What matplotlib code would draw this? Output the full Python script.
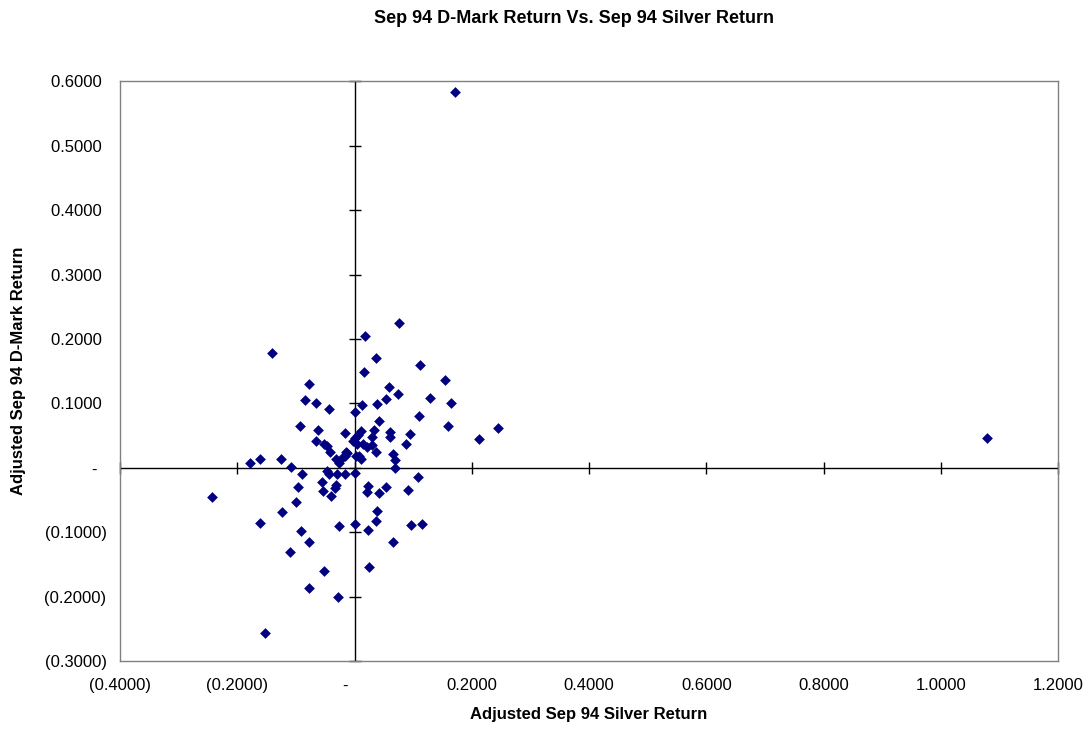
import matplotlib
matplotlib.use("Agg")
import matplotlib.pyplot as plt
from matplotlib.ticker import FuncFormatter

plt.rcParams['font.family'] = ['Liberation Sans', 'DejaVu Sans']

# Adjusted Sep 94 silver returns (x) and D-Mark returns (y)
silver_return = [
    0.171, 1.079, 0.245, 0.212, -0.243, -0.152,
    -0.140, -0.078, -0.084, -0.065, -0.043, 0.000, -0.093, -0.063, -0.017,
    -0.065, -0.052, -0.047, -0.042, -0.032, -0.027, -0.017, -0.012, -0.002,
    0.002, -0.178, -0.161, -0.125, -0.109, -0.090,
    0.076, 0.018, 0.037, 0.112, 0.017, 0.155, 0.058, 0.075, 0.054, 0.128,
    0.165, 0.038, 0.012, 0.110, 0.041, 0.160, 0.011, 0.033, 0.060, 0.061,
    0.094, 0.030, 0.006, 0.001, 0.004, 0.088, 0.029, 0.022, 0.036, 0.066,
    0.069, -0.015, -0.019, 0.008, 0.011, 0.069, -0.017, 0.001, 0.108, 0.023,
    0.022, 0.054, 0.042, 0.092, 0.039, 0.036, 0.000, 0.023, 0.097, 0.115,
    0.065, 0.024, -0.047, -0.043, -0.030, -0.096, -0.056, -0.054, -0.032,
    -0.033, -0.040, -0.099, -0.124, -0.161, -0.027, -0.091, -0.077, -0.110,
    -0.052, -0.078, -0.029, 0.014,
]
dmark_return = [
    0.583, 0.047, 0.062, 0.044, -0.045, -0.257,
    0.179, 0.130, 0.106, 0.100, 0.091, 0.086, 0.065, 0.059, 0.054,
    0.041, 0.037, 0.034, 0.025, 0.013, 0.007, 0.018, 0.023, 0.042,
    0.018, 0.008, 0.014, 0.013, 0.002, -0.010,
    0.225, 0.204, 0.171, 0.160, 0.149, 0.137, 0.126, 0.114, 0.107, 0.108,
    0.100, 0.099, 0.097, 0.080, 0.073, 0.065, 0.057, 0.059, 0.056, 0.048,
    0.053, 0.048, 0.051, 0.046, 0.037, 0.037, 0.036, 0.032, 0.025, 0.021,
    0.012, 0.025, 0.017, 0.018, 0.014, 0.000, -0.010, -0.008, -0.015, -0.028,
    -0.038, -0.029, -0.039, -0.035, -0.067, -0.082, -0.087, -0.097, -0.089, -0.087,
    -0.115, -0.154, -0.005, -0.010, -0.010, -0.030, -0.022, -0.036, -0.026,
    -0.032, -0.044, -0.053, -0.069, -0.085, -0.090, -0.098, -0.115, -0.130,
    -0.160, -0.187, -0.200, 0.037,
]

x_ticks = [-0.4, -0.2, 0.0, 0.2, 0.4, 0.6, 0.8, 1.0, 1.2]
y_ticks = [-0.3, -0.2, -0.1, 0.0, 0.1, 0.2, 0.3, 0.4, 0.5, 0.6]

title = "Sep 94 D-Mark Return Vs. Sep 94 Silver Return"
x_label = "Adjusted Sep 94 Silver Return"
y_label = "Adjusted Sep 94 D-Mark Return"


def accounting(zero_text, pos_pad=""):
    # accounting style: negatives in parentheses, zero as a dash
    def fmt(v, pos=None):
        if abs(v) < 1e-9:
            return zero_text
        if v < 0:
            return f"({abs(v):.4f})"
        return f"{v:.4f}" + pos_pad
    return fmt


fig = plt.figure(figsize=(10.91, 7.30), dpi=100)
ax = fig.add_axes([0.110, 0.0945, 0.8598, 0.7939])

ax.set_xlim(x_ticks[0], x_ticks[-1])
ax.set_ylim(y_ticks[0], y_ticks[-1])
ax.set_xticks(x_ticks)
ax.set_yticks(y_ticks)
ax.xaxis.set_major_formatter(FuncFormatter(accounting("-    ")))
ax.yaxis.set_major_formatter(FuncFormatter(accounting("-  ", " ")))
ax.tick_params(axis='both', length=0, labelsize=12, colors='black')
ax.tick_params(axis='x', pad=12)
ax.tick_params(axis='y', pad=9.7)

for sp in ax.spines.values():
    sp.set_color('#808080')
    sp.set_linewidth(1.0)

# zero axes crossing the plot, with cross ticks
ax.axhline(0, color='black', lw=1.0, zorder=1)
ax.axvline(0, color='black', lw=1.0, zorder=1)
ax.plot(x_ticks, [0] * len(x_ticks), ls='none', marker='|', ms=8,
        mew=1.0, color='black', zorder=1, clip_on=False)
ax.plot([0] * len(y_ticks), y_ticks, ls='none', marker='_', ms=8,
        mew=1.0, color='black', zorder=1, clip_on=False)

ax.scatter(silver_return, dmark_return, marker='D', s=30, color='#000080',
           linewidths=0, zorder=3)

fig.text(0.526, 0.974, title, ha='center', va='center', fontsize=13,
         fontweight='bold')
ax.set_xlabel(x_label, fontsize=12, fontweight='bold', labelpad=10)
ax.set_ylabel(y_label, fontsize=12, fontweight='bold', labelpad=13)

fig.savefig("out.png", dpi=100)
